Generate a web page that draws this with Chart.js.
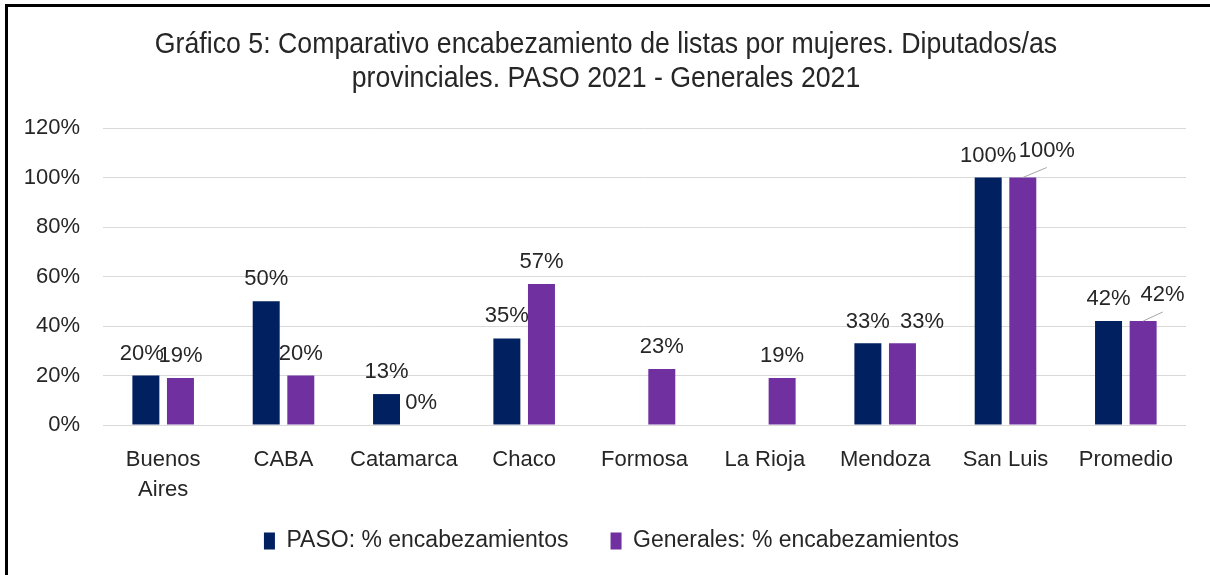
<!DOCTYPE html>
<html><head><meta charset="utf-8">
<script src="https://cdn.jsdelivr.net/npm/chart.js@4"></script>
<style>
html,body{margin:0;padding:0;background:#fff;overflow:hidden;width:1210px;height:575px}
#wrap{position:relative;width:1210px;height:575px;overflow:hidden}
#frame{position:absolute;left:5px;top:4px;width:1210px;height:620px;border:3px solid #000;box-sizing:border-box;pointer-events:none}
canvas{position:absolute;left:0;top:0}
</style></head><body>
<div id="wrap"><canvas id="c" width="1210" height="575"></canvas><div id="frame"></div></div>
<script>
// ---- data ----
const titleLines = ["Gráfico 5: Comparativo encabezamiento de listas por mujeres. Diputados/as", "provinciales. PASO 2021 - Generales 2021"];
const categories = [["Buenos", "Aires"], "CABA", "Catamarca", "Chaco", "Formosa", "La Rioja", "Mendoza", "San Luis", "Promedio"];
const seriesNames = ["PASO: % encabezamientos", "Generales: % encabezamientos"];
const pasoValues = [20, 50, 12.5, 35, null, null, 33, 100, 42];
const generalesValues = [19, 20, 0, 57, 22.6, 19, 33, 100, 42];
const yMin = 0, yMax = 120, yStep = 20;

// ---- style ----
const colors = ["#002060", "#7030A0"];
const textColor = "#262626";
const baseFont = '"Liberation Sans", Arial, sans-serif';
// label nudges (pixels) per series, per category
const labelNudges = [
  [{dx:-4},{},{},{},{},{},{dy:1},{},{}],
  [{},{},{},{},{},{},{dx:19.5,dy:1},{dx:24,dy:-5,leader:true},{dx:19.5,dy:-4,leader:true}]
];
const titleStyle = { size: 30, condense: 0.89, baselines: [53, 86.5], centerX: 606 };

const condensedTitle = {
  id: 'condensedTitle',
  afterDraw(chart) {
    const ctx = chart.ctx;
    ctx.save();
    ctx.font = titleStyle.size + 'px ' + baseFont;
    ctx.fillStyle = textColor;
    ctx.textAlign = 'center';
    ctx.textBaseline = 'alphabetic';
    titleLines.forEach((line, i) => {
      ctx.save();
      ctx.translate(titleStyle.centerX, titleStyle.baselines[i]);
      ctx.scale(titleStyle.condense, 1);
      ctx.fillText(line, 0, 0);
      ctx.restore();
    });
    ctx.restore();
  }
};

const valueLabels = {
  id: 'valueLabels',
  afterDatasetsDraw(chart) {
    const ctx = chart.ctx;
    ctx.save();
    ctx.font = '22px ' + baseFont;
    ctx.fillStyle = textColor;
    ctx.textAlign = 'center';
    ctx.textBaseline = 'alphabetic';
    chart.data.datasets.forEach((ds, di) => {
      const meta = chart.getDatasetMeta(di);
      meta.data.forEach((bar, i) => {
        const v = ds.data[i];
        if (v === null || v === undefined) return;
        const n = labelNudges[di][i] || {};
        const x = bar.x + (n.dx || 0);
        const y = bar.y - 16 + (n.dy || 0);
        if (n.leader) {
          ctx.strokeStyle = '#a6a6a6';
          ctx.lineWidth = 1;
          ctx.beginPath();
          ctx.moveTo(bar.x, bar.y);
          ctx.lineTo(x, y + 11);
          ctx.stroke();
        }
        ctx.fillText(Math.round(v) + '%', x, y);
      });
    });
    ctx.restore();
  }
};

new Chart(document.getElementById('c'), {
  type: 'bar',
  data: {
    labels: categories,
    datasets: [
      { label: seriesNames[0], data: pasoValues, backgroundColor: colors[0], categoryPercentage: 0.575, barPercentage: 0.78 },
      { label: seriesNames[1], data: generalesValues, backgroundColor: colors[1], categoryPercentage: 0.575, barPercentage: 0.78 }
    ]
  },
  options: {
    responsive: false,
    animation: false,
    layout: { padding: { left: 37, right: 24, top: 128, bottom: 12.5 } },
    plugins: {
      title: { display: false },
      legend: {
        position: 'bottom',
        labels: {
          color: textColor,
          font: { family: baseFont, size: 23 },
          boxWidth: 11, boxHeight: 17,
          padding: 42
        }
      },
      tooltip: { enabled: false }
    },
    scales: {
      x: {
        grid: { display: false, drawTicks: false },
        border: { display: false },
        ticks: { color: textColor, font: { family: baseFont, size: 22, lineHeight: 30/22 }, padding: 20, maxRotation: 0, autoSkip: false },
        afterFit(scale) {
          scale.height = 62.5;
          scale._computeLabelArea = () => undefined;
        }
      },
      y: {
        min: yMin, max: yMax,
        grid: { color: '#d9d9d9', lineWidth: 1, drawTicks: false },
        border: { display: false },
        ticks: { stepSize: yStep, color: textColor, font: { family: baseFont, size: 22 }, padding: 23, callback: v => v + '%' },
        afterFit(scale) {
          scale.width = 66;
          scale._computeLabelArea = () => undefined;
        }
      }
    }
  },
  plugins: [valueLabels, condensedTitle]
});
</script>
</body></html>
